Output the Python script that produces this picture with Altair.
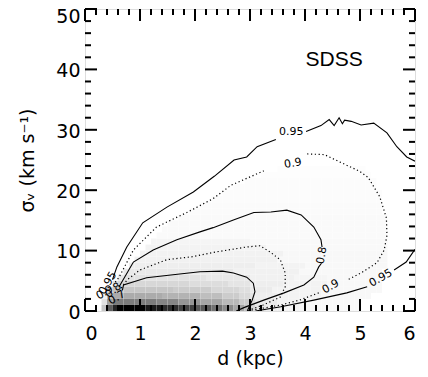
import altair as alt
import pandas as pd

# Plot area and axis ranges
W, H = 330, 302
D_MIN, D_MAX = 0, 6
S_MIN, S_MAX = 0, 50

# Greyscale density image: for each sigma_v row (1 km/s tall), runs of
# (d_start, d_end, darkness in percent: 0 = white, 100 = black)
density_rows = {
    0: [(0.3, 0.4, 20), (0.4, 0.5, 60), (0.5, 0.6, 85), (0.6, 1.1, 100), (1.1, 1.4, 92),
        (1.4, 1.7, 82), (1.7, 2.0, 72), (2.0, 2.3, 62), (2.3, 2.5, 52), (2.5, 2.7, 42),
        (2.7, 2.9, 32), (2.9, 3.0, 22), (3.0, 3.1, 14), (3.1, 3.3, 9), (3.3, 3.6, 6),
        (3.6, 4.1, 4), (4.1, 5.0, 2.5)],
    1: [(0.3, 0.4, 10), (0.4, 0.5, 35), (0.5, 1.3, 48), (1.3, 1.7, 44), (1.7, 2.1, 38),
        (2.1, 2.5, 32), (2.5, 2.8, 25), (2.8, 3.0, 18), (3.0, 3.1, 11), (3.1, 3.5, 7),
        (3.5, 4.1, 4), (4.1, 5.0, 2.5)],
    2: [(0.3, 0.4, 5), (0.4, 0.5, 25), (0.5, 1.4, 30), (1.4, 2.1, 27), (2.1, 2.5, 23),
        (2.5, 2.8, 18), (2.8, 3.0, 13), (3.0, 3.1, 9), (3.1, 3.5, 6), (3.5, 4.3, 4),
        (4.3, 5.2, 2.5)],
    3: [(0.4, 0.5, 15), (0.5, 1.6, 20), (1.6, 2.3, 18), (2.3, 2.8, 14), (2.8, 3.0, 11),
        (3.0, 3.4, 7), (3.4, 4.3, 4), (4.3, 5.4, 2.5)],
    4: [(0.5, 0.6, 10), (0.6, 1.9, 14), (1.9, 2.6, 12), (2.6, 3.0, 9), (3.0, 3.6, 6),
        (3.6, 4.4, 4), (4.4, 5.4, 2.5)],
    5: [(0.6, 0.7, 8), (0.7, 2.2, 10), (2.2, 3.0, 8), (3.0, 3.8, 5), (3.8, 4.4, 3.5),
        (4.4, 5.4, 2.5)],
    6: [(0.7, 2.7, 7.5), (2.7, 3.9, 5), (3.9, 5.4, 2.5)],
    7: [(0.8, 3.1, 6), (3.1, 4.0, 4), (4.0, 5.5, 2.5)],
    8: [(0.9, 3.5, 5), (3.5, 5.5, 2.5)],
    9: [(1.0, 3.6, 4.5), (3.6, 5.5, 2.5)],
    10: [(1.1, 3.3, 4), (3.3, 5.5, 2)],
    11: [(1.2, 3.0, 3.5), (3.0, 5.5, 2)],
    12: [(1.3, 5.5, 1.8)],
    13: [(1.4, 5.5, 1.8)],
    14: [(1.5, 5.5, 1.6)],
    15: [(1.7, 5.5, 1.6)],
    16: [(1.9, 5.4, 1.4)],
    17: [(2.1, 5.4, 1.4)],
    18: [(2.3, 5.4, 1.2)],
    19: [(2.5, 5.4, 1.2)],
    20: [(2.7, 5.3, 1)],
    21: [(2.9, 5.3, 1)],
    22: [(3.2, 5.2, 0.8)],
    23: [(3.5, 5.1, 0.8)],
}

# Contour paths (d in kpc, sigma_v in km/s); each piece is drawn as one line
contour_pieces = {
    "c95_upper_a": [(0.50, 5.2), (0.58, 7.3), (0.76, 10.6), (1.05, 14.6), (1.49, 17.2),
                    (1.97, 19.7), (2.35, 22.3), (2.71, 25.0), (2.94, 25.5), (3.13, 27.2),
                    (3.47, 28.4)],
    "c95_upper_b": [(4.02, 29.7), (4.29, 30.7), (4.44, 31.7), (4.53, 30.7), (4.62, 32.0),
                    (4.68, 31.0), (4.72, 31.6), (4.84, 31.4), (5.02, 30.8), (5.25, 31.1),
                    (5.49, 29.5), (5.67, 27.2), (5.85, 25.5), (6.00, 24.8)],
    "c95_lower_a": [(6.00, 10.2), (5.93, 9.3), (5.84, 8.1), (5.62, 6.8)],
    "c95_lower_b": [(5.13, 4.0), (4.76, 3.0), (4.16, 1.8), (3.56, 0.7), (3.10, 0.0)],
    "c90_upper_a": [(0.55, 4.8), (0.62, 5.6), (0.88, 10.1), (1.30, 13.9), (1.85, 16.3),
                    (2.33, 18.6), (2.65, 20.8), (3.25, 23.2)],
    "c90_upper_b": [(4.04, 26.0), (4.35, 25.9), (4.65, 24.6), (5.00, 23.1), (5.15, 22.1),
                    (5.36, 18.9), (5.48, 15.4), (5.49, 12.5), (5.44, 10.1), (5.31, 8.0),
                    (5.02, 6.3), (4.76, 5.1)],
    "c90_lower": [(4.25, 3.0), (3.90, 1.8), (3.56, 1.0), (2.95, 0.0)],
    "c80_upper": [(0.62, 4.0), (0.88, 8.1), (1.24, 10.1), (1.67, 11.8), (2.09, 13.1),
                  (2.33, 13.8), (2.71, 15.1), (3.07, 16.3), (3.38, 16.4), (3.67, 16.7),
                  (3.93, 15.9), (4.16, 13.9), (4.29, 11.8), (4.31, 10.6)],
    "c80_lower": [(4.30, 7.9), (4.25, 7.3), (4.16, 5.6), (3.98, 4.3), (3.62, 3.0),
                  (3.25, 1.8), (2.90, 0.6), (2.75, 0.0)],
    "c70": [(0.66, 3.8), (0.76, 5.1), (1.00, 6.8), (1.49, 8.5), (1.96, 9.0), (2.33, 9.7),
            (2.94, 10.6), (3.18, 10.8), (3.36, 9.8), (3.55, 8.5), (3.64, 6.3), (3.64, 4.0),
            (3.55, 2.3), (3.24, 1.0), (3.00, 0.2)],
    "c50": [(0.68, 3.4), (0.70, 4.3), (1.12, 5.5), (1.60, 6.0), (2.09, 6.5), (2.50, 6.6),
            (2.70, 6.3), (2.94, 5.6), (3.06, 4.6), (3.09, 3.2), (3.04, 1.8), (3.00, 1.0),
            (2.95, 0.0)],
}
dotted_pieces = {"c90_upper_a", "c90_upper_b", "c90_lower", "c70"}

# Contour level labels: (text, d, sigma_v, angle)
contour_labels = [
    ("0.95", 3.75, 29.6, 0), ("0.9", 3.78, 24.4, 350), ("0.8", 4.31, 9.2, 280),
    ("0.9", 4.47, 4.0, 330), ("0.95", 5.38, 5.4, 330),
    ("0.95", 0.42, 4.6, 300), ("0.9", 0.36, 3.0, 330), ("0.8", 0.52, 3.4, 320),
    ("0.7", 0.58, 2.2, 330),
]

# Axis ticks
x_major = [0, 1, 2, 3, 4, 5, 6]
x_minor = [round(0.2 * i, 1) for i in range(31) if i % 5]
y_major = [0, 10, 20, 30, 40, 50]
y_minor = [2 * i for i in range(26) if i % 5]

# ---- tables ----
cells = []
for s, runs in density_rows.items():
    for d0, d1, lev in runs:
        n = int(round((d1 - d0) / 0.1))
        for k in range(n):
            a = round(d0 + 0.1 * k, 2)
            cells.append({"d0": a, "d1": round(a + 0.1, 2), "s0": s, "s1": s + 1, "lev": lev})
cells_df = pd.DataFrame(cells)

line_rows = []
for name, pts in contour_pieces.items():
    for i, (d, s) in enumerate(pts):
        line_rows.append({"piece": name, "i": i, "d": d, "s": s,
                          "dotted": name in dotted_pieces})
lines_df = pd.DataFrame(line_rows)
labels_df = pd.DataFrame(contour_labels, columns=["t", "d", "s", "ang"])

xs = alt.Scale(domain=[D_MIN, D_MAX], nice=False, zero=False)
ys = alt.Scale(domain=[S_MIN, S_MAX], nice=False, zero=False)

FONT = "DejaVu Sans"

image = alt.Chart(cells_df).mark_rect(strokeWidth=0).encode(
    x=alt.X("d0:Q", scale=xs,
            axis=alt.Axis(values=x_major, format="d", ticks=False, domain=False, grid=False,
                          labelFontSize=19, labelPadding=13, labelFont=FONT,
                          labelColor="black", title="d (kpc)", titleFont=FONT,
                          titleFontSize=19, titleFontWeight="normal", titlePadding=6,
                          titleColor="black")),
    x2="d1:Q",
    y=alt.Y("s0:Q", scale=ys,
            axis=alt.Axis(values=y_major, format="d", ticks=False, domain=False, grid=False,
                          labelFontSize=19, labelPadding=5, labelFont=FONT,
                          labelOffset=alt.expr("datum.value == 50 ? 7 : (datum.value == 30 ? 2 : 1)"),
                          labelColor="black", title="σᵥ (km s⁻¹)", titleFont=FONT,
                          titleFontSize=19, titleFontWeight="normal", titlePadding=18,
                          titleColor="black")),
    y2="s1:Q",
    color=alt.Color("lev:Q", scale=alt.Scale(domain=[0, 100], range=["#ffffff", "#000000"]),
                    legend=None),
)

solid = alt.Chart(lines_df).transform_filter("!datum.dotted").mark_line(
    color="black", strokeWidth=1.1, clip=True
).encode(x=alt.X("d:Q", scale=xs), y=alt.Y("s:Q", scale=ys), detail="piece:N", order="i:Q")

dotted = alt.Chart(lines_df).transform_filter("datum.dotted").mark_line(
    color="black", strokeWidth=1.2, strokeDash=[1.2, 2.6], clip=True
).encode(x=alt.X("d:Q", scale=xs), y=alt.Y("s:Q", scale=ys), detail="piece:N", order="i:Q")

labels = alt.Chart(labels_df).mark_text(
    font=FONT, fontSize=11, color="black", align="center", baseline="middle"
).encode(x=alt.X("d:Q", scale=xs), y=alt.Y("s:Q", scale=ys), text="t:N",
         angle=alt.Angle("ang:Q", scale=None))

sdss = alt.Chart(pd.DataFrame({"t": ["SDSS"], "d": [4.53], "s": [41.5]})).mark_text(
    font="Liberation Sans", fontSize=21, color="black", align="center", baseline="middle"
).encode(x=alt.X("d:Q", scale=xs), y=alt.Y("s:Q", scale=ys), text="t:N")

MAJ, MIN = 12, 6
tx_maj = pd.DataFrame({"v": x_major})
tx_min = pd.DataFrame({"v": x_minor})
ty_maj = pd.DataFrame({"v": y_major})
ty_min = pd.DataFrame({"v": y_minor})

def xticks(df, length):
    bottom = alt.Chart(df).mark_rule(color="black", strokeWidth=2).encode(
        x=alt.X("v:Q", scale=xs), y=alt.value(H), y2=alt.value(H - length))
    top = alt.Chart(df).mark_rule(color="black", strokeWidth=2).encode(
        x=alt.X("v:Q", scale=xs), y=alt.value(0), y2=alt.value(length))
    return bottom + top

def yticks(df, length):
    left = alt.Chart(df).mark_rule(color="black", strokeWidth=2).encode(
        y=alt.Y("v:Q", scale=ys), x=alt.value(0), x2=alt.value(length))
    right = alt.Chart(df).mark_rule(color="black", strokeWidth=2).encode(
        y=alt.Y("v:Q", scale=ys), x=alt.value(W), x2=alt.value(W - length))
    return left + right

chart = alt.layer(
    image, solid, dotted, labels, sdss,
    xticks(tx_maj, MAJ), xticks(tx_min, MIN), yticks(ty_maj, MAJ), yticks(ty_min, MIN),
).properties(
    width=W, height=H,
    autosize=alt.AutoSizeParams(type="none"),
    padding={"left": 85, "top": 9, "right": 13, "bottom": 66},
).configure_view(stroke="black", strokeWidth=2.5).configure(background="white")

chart.save("out.html", embed_options={"renderer": "svg", "actions": False})
